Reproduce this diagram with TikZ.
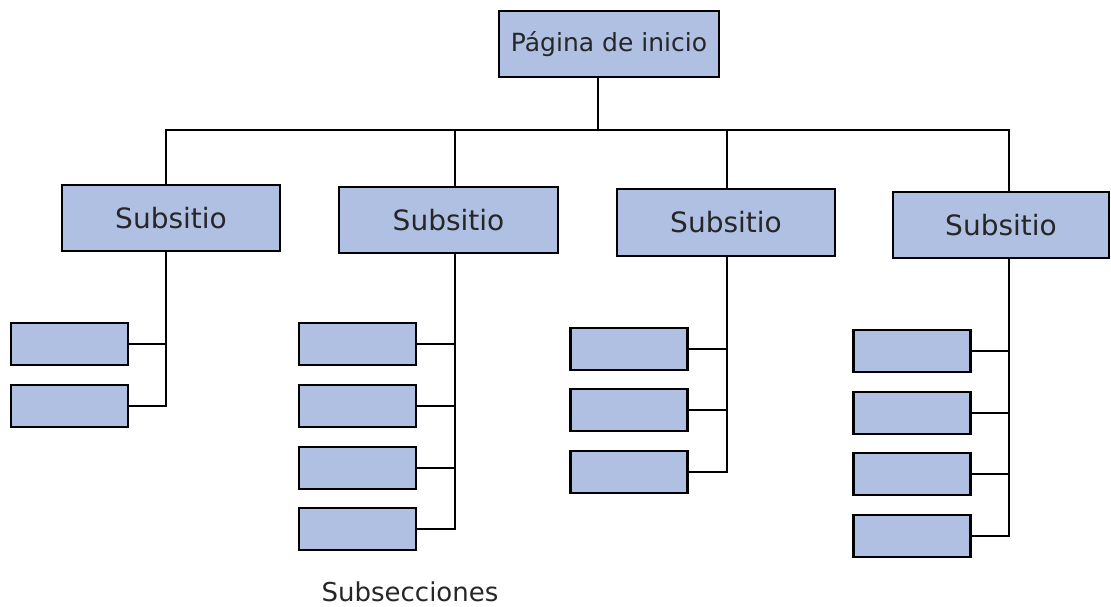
\documentclass[tikz,border=0pt]{standalone}
\usepackage{fontspec}
\setmainfont{DejaVu Sans}
\usepackage{tikz}
\usetikzlibrary{positioning}
\definecolor{boxblue}{RGB}{175,192,226}
\tikzset{
	sitebox/.style={draw=black, fill=boxblue, line width=2.2pt, inner sep=0pt,
		font=\fontsize{25}{30}\selectfont, text=black!85},
	subbox/.style={draw=black, fill=boxblue, line width=2.2pt, inner sep=0pt,
		minimum width=117pt, minimum height=42pt},
	link/.style={draw=black, line width=2pt, line cap=rect},
}

\begin{document}
\begin{tikzpicture}[x=1pt, y=-1pt]
	\useasboundingbox (0,0) rectangle (1111,606);
	% home page and bus
	\node[sitebox, minimum width=220pt, minimum height=66pt] (top) at (609,44) {Página de inicio};
	\coordinate (j0) at (598,130);
	\coordinate (j1) at (166,130);
	\coordinate (j2) at (455,130);
	\coordinate (j3) at (727,130);
	\coordinate (j4) at (1009,130);
	\draw[link] (j0 |- top.south) -- (j0);
	\draw[link] (j1) -- (j4);
	% subsites
	\node[sitebox, font=\fontsize{28}{32}\selectfont, minimum width=218pt, minimum height=66pt] (s1) at (171,218) {Subsitio};
	\node[sitebox, font=\fontsize{28}{32}\selectfont, minimum width=219pt, minimum height=66pt] (s2) at (448.5,220) {Subsitio};
	\node[sitebox, font=\fontsize{28}{32}\selectfont, minimum width=218pt, minimum height=67pt] (s3) at (726,222.5) {Subsitio};
	\node[sitebox, font=\fontsize{28}{32}\selectfont, minimum width=216pt, minimum height=66pt] (s4) at (1001,225) {Subsitio};
	\foreach \i in {1,...,4}
		\draw[link] (j\i) -- (j\i |- s\i.north);
	% subsections, column by column
	\foreach \y [count=\k] in {344,406} {
		\node[subbox] (c1\k) at (69.5,\y) {};
		\draw[link] (c1\k.east) -- (c1\k.east -| j1);
	}
	\draw[link] (j1 |- s1.south) -- (j1 |- c12.east);
	\foreach \y [count=\k] in {344,406,468,529} {
		\node[subbox] (c2\k) at (357.5,\y) {};
		\draw[link] (c2\k.east) -- (c2\k.east -| j2);
	}
	\draw[link] (j2 |- s2.south) -- (j2 |- c24.east);
	\foreach \y [count=\k] in {349,410,472} {
		\node[subbox] (c3\k) at (629,\y) {};
		\draw[link] (c3\k.east) -- (c3\k.east -| j3);
	}
	\draw[link] (j3 |- s3.south) -- (j3 |- c33.east);
	\foreach \y [count=\k] in {351,413,474,536} {
		\node[subbox] (c4\k) at (912,\y) {};
		\draw[link] (c4\k.east) -- (c4\k.east -| j4);
	}
	\draw[link] (j4 |- s4.south) -- (j4 |- c44.east);
	% caption
	\node[font=\fontsize{26}{30}\selectfont, text=black!85] (caption) at (410,592) {Subsecciones};
\end{tikzpicture}
\end{document}
